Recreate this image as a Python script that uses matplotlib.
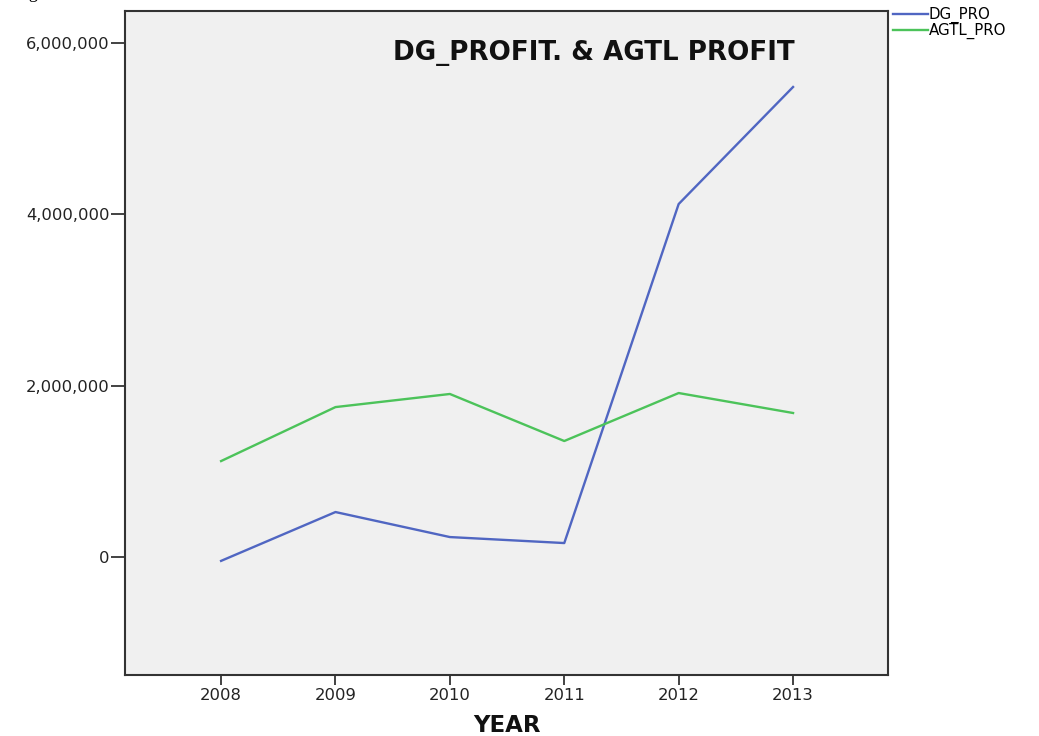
import matplotlib
matplotlib.use("Agg")
import matplotlib.pyplot as plt
from matplotlib.ticker import FuncFormatter

years = [2008, 2009, 2010, 2011, 2012, 2013]
dg_pro = [-45000, 525000, 233000, 163000, 4120000, 5486000]
agtl_pro = [1120000, 1750000, 1903000, 1354000, 1914000, 1681000]
y_ticks = [0, 2000000, 4000000, 6000000]

plt.rcParams['font.family'] = ['DejaVu Sans']

fig = plt.figure(figsize=(10.39, 7.36), dpi=100)
ax = fig.add_axes([125/1039, 1-675/736, (888-125)/1039, (675-11)/736])
ax.set_facecolor('#f0f0f0')

l1, = ax.plot(years, dg_pro, color='#5066c2', lw=1.7, label='DG_PRO')
l2, = ax.plot(years, agtl_pro, color='#4cc35a', lw=1.7, label='AGTL_PRO')

ax.set_xlim(2007.16, 2013.83)
ax.set_ylim(-1377000, 6373000)
ax.set_xticks(years)
ax.set_yticks(y_ticks)
ax.yaxis.set_major_formatter(FuncFormatter(lambda v, p: f"{int(v):,}"))
ax.tick_params(axis='both', direction='out', width=1.2, color='#222222',
               labelsize=11.8, labelcolor='#222222')
ax.tick_params(axis='y', length=10, pad=1)
ax.tick_params(axis='x', length=7, pad=2)
for s in ax.spines.values():
    s.set_color('#333333')
    s.set_linewidth(1.5)

ax.text(0.615, 0.937, 'DG_PROFIT. & AGTL PROFIT', transform=ax.transAxes,
        ha='center', va='center', fontsize=18.8, fontweight='bold', color='#111111')

ax.set_xlabel('YEAR', fontsize=16.5, fontweight='bold', color='#111111', labelpad=8)

fig.legend(handles=[l1, l2], loc='upper left', bbox_to_anchor=(890/1039, 1-4/736),
           frameon=False, fontsize=10.8, handlelength=2.3, handletextpad=0.1,
           labelspacing=0.0, borderaxespad=0, borderpad=0.2)

fig.text(15/1039, 1+2/736, 'Fig', fontsize=13, va='baseline', ha='left',
         family=['Liberation Serif', 'DejaVu Serif'])

fig.savefig('out.png', dpi=100)
